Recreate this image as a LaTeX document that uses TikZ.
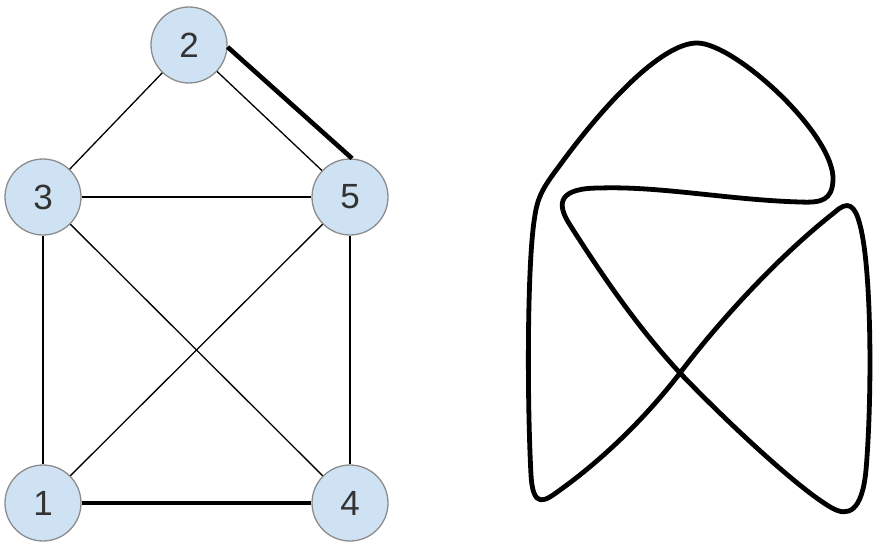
\documentclass[tikz,border=0pt]{standalone}
\usepackage{fontspec}
\setmainfont{Liberation Sans}
\usepackage{xcolor}
\usepackage{tikz}
\definecolor{nodeblue}{HTML}{CFE2F3}
\definecolor{nodegray}{HTML}{8C8C8C}

\begin{document}
\begin{tikzpicture}[
  x=1pt, y=-1pt,
  every node/.style={font=\fontsize{35}{40}\selectfont, text=black!80},
  vertex/.style={circle, draw=nodegray, line width=1.3pt, fill=nodeblue, minimum size=76pt, inner sep=0pt},
  edge/.style={line width=1.3pt},
  heavy/.style={line width=4.6pt},
  knot/.style={line width=4.8pt, line join=round}
]
\useasboundingbox (0,0) rectangle (877,543);

\node[vertex] (n2) at (189,45) {2};
\node[vertex] (n3) at (43,197) {3};
\node[vertex] (n5) at (350,197) {5};
\node[vertex] (n1) at (43,503) {1};
\node[vertex] (n4) at (350,503) {4};

\draw[edge] (n2) -- (n3);
\draw[edge] (n2) -- (n5);
\draw[edge] (n3) -- (n5);
\draw[edge] (n3) -- (n1);
\draw[edge] (n3) -- (n4);
\draw[edge] (n5) -- (n1);
\draw[edge] (n5) -- (n4);
\draw[heavy] (n1) -- (n4);
\draw[heavy] (n2.-3) -- (n5.87);

% the closed curve on the right
\draw[knot] (680,373)
  .. controls (640,425) and (595,465) .. (560,490)
  .. controls (545,501) and (533,510) .. (531,475)
  .. controls (527,400) and (527,260) .. (535,215)
  .. controls (538,195) and (545,185) .. (560,165)
  .. controls (600,110) and (660,43) .. (697,43)
  .. controls (735,43) and (835,135) .. (833,180)
  .. controls (832,200) and (822,203) .. (800,202)
  .. controls (730,200) and (660,186) .. (600,188)
  .. controls (560,188) and (555,202) .. (570,225)
  .. controls (605,280) and (640,330) .. (680,373)
  .. controls (730,425) and (800,490) .. (832,508)
  .. controls (848,517) and (862,512) .. (866,470)
  .. controls (872,400) and (872,270) .. (860,225)
  .. controls (855,205) and (848,200) .. (835,212)
  .. controls (780,255) and (720,320) .. (680,373) -- cycle;
\end{tikzpicture}
\end{document}
